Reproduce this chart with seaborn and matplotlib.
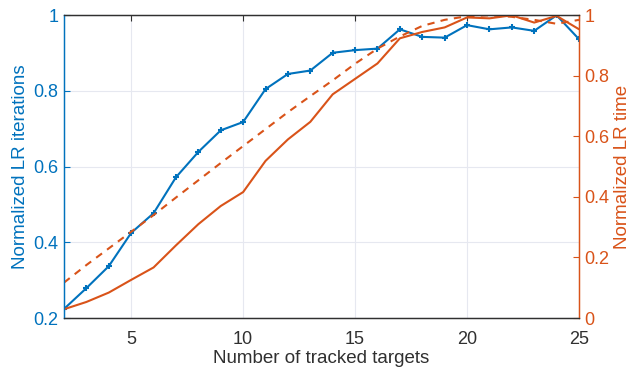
import matplotlib
matplotlib.use("Agg")
import matplotlib.pyplot as plt
import seaborn as sns
import pandas as pd
from matplotlib.ticker import FuncFormatter

# Number of tracked targets
targets = list(range(2, 26))

# Normalized LR iterations (left axis)
lr_iterations = [0.224, 0.279, 0.337, 0.425, 0.477, 0.572, 0.639, 0.696, 0.718,
                 0.805, 0.845, 0.854, 0.901, 0.908, 0.912, 0.963, 0.943, 0.941,
                 0.974, 0.963, 0.968, 0.959, 1.000, 0.937]

# Normalized LR time, measured (right axis)
lr_time = [0.029, 0.053, 0.084, 0.126, 0.167, 0.240, 0.310, 0.370, 0.416,
           0.519, 0.590, 0.648, 0.739, 0.790, 0.841, 0.924, 0.945, 0.960,
           0.993, 0.990, 1.000, 0.976, 0.998, 0.954]

# Normalized LR time, model (right axis)
lr_time_model = [0.117, 0.175, 0.230, 0.285, 0.340, 0.398, 0.455, 0.512, 0.568,
                 0.624, 0.680, 0.733, 0.785, 0.840, 0.890, 0.930, 0.965, 0.985,
                 0.997, 1.000, 0.995, 0.985, 0.972, 0.985]

df = pd.DataFrame({"targets": targets, "iters": lr_iterations,
                   "time": lr_time, "model": lr_time_model})

BLUE = "#0072BD"
ORANGE = "#D95319"
DARK = "#303030"
GRID = "#E6E8F0"

sns.set_theme(style="white")
plt.rcParams["font.family"] = ["Liberation Sans", "DejaVu Sans"]
plt.rcParams["xtick.direction"] = "in"
plt.rcParams["ytick.direction"] = "in"

fig = plt.figure(figsize=(6.35, 3.69), dpi=100)
ax = fig.add_axes([0.1008, 0.1382, 0.8110, 0.8203])
ax2 = ax.twinx()

# grid lines on the primary axes
ax.set_axisbelow(True)
ax.grid(True, color=GRID, linewidth=0.8)

sns.lineplot(data=df, x="targets", y="iters", ax=ax, color=BLUE,
             linewidth=1.5, marker="+", markersize=5, markeredgewidth=1.5,
             markeredgecolor=BLUE)
sns.lineplot(data=df, x="targets", y="time", ax=ax2, color=ORANGE,
             linewidth=1.5)
sns.lineplot(data=df, x="targets", y="model", ax=ax2, color=ORANGE,
             linewidth=1.5, linestyle=(0, (3.5, 3.0)))

ax.set_xlim(2, 25)
ax.set_ylim(0.2, 1.0)
ax2.set_ylim(0, 1.0)

ax.set_xticks([5, 10, 15, 20, 25])
ax.set_yticks([0.2, 0.4, 0.6, 0.8, 1.0])
ax2.set_yticks([0, 0.2, 0.4, 0.6, 0.8, 1.0])
fmt = FuncFormatter(lambda v, p: f"{v:g}")
ax.yaxis.set_major_formatter(fmt)
ax2.yaxis.set_major_formatter(fmt)

ax.set_xlabel("Number of tracked targets", fontsize=13.5, color=DARK, labelpad=2)
ax.set_ylabel("Normalized LR iterations", fontsize=13.5, color=BLUE, labelpad=3)
ax2.set_ylabel("Normalized LR time", fontsize=13.5, color=ORANGE, labelpad=3)

ax.tick_params(axis="x", colors=DARK, labelsize=13, length=4, width=0.8,
               top=True, pad=9)
ax.tick_params(axis="y", colors=BLUE, labelsize=13, length=4, width=0.8,
               left=True, right=False, pad=4)
ax2.tick_params(axis="y", colors=ORANGE, labelsize=13, length=4, width=0.8,
                right=True, left=False, pad=4)

for a in (ax, ax2):
    for s in a.spines.values():
        s.set_visible(True)
        s.set_linewidth(0.9)
    a.spines["top"].set_color(DARK)
    a.spines["bottom"].set_color(DARK)
    a.spines["left"].set_color(BLUE)
    a.spines["right"].set_color(ORANGE)

fig.savefig("out.png", dpi=100)
